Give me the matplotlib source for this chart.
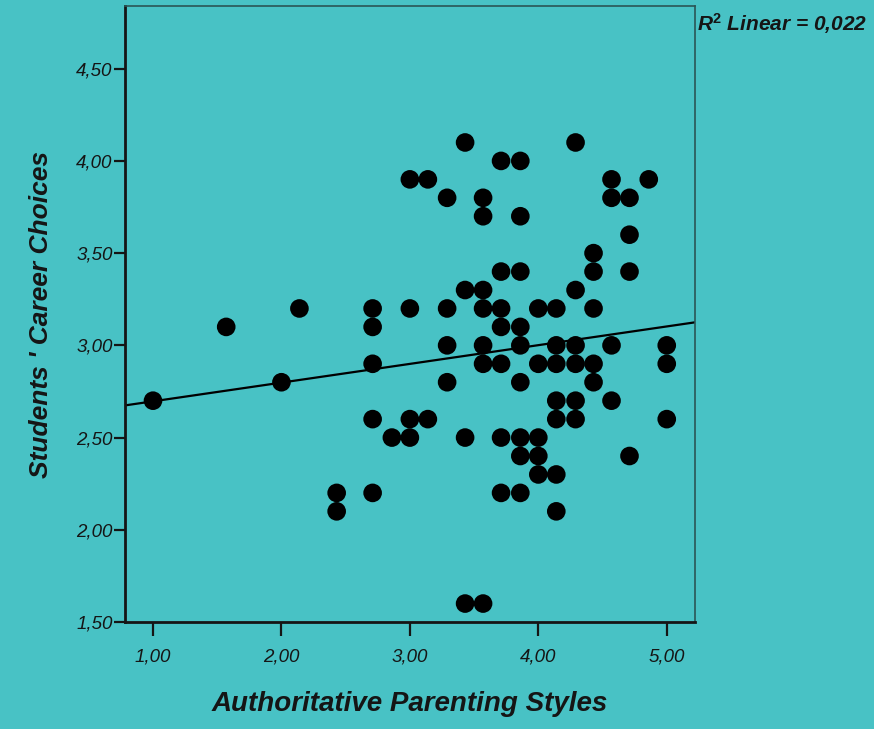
import numpy as np
import matplotlib
matplotlib.use("Agg")
import matplotlib.pyplot as plt

# Authoritative parenting score (x) and career choice score (y)
x_vals = [1.00, 1.57, 2.00, 2.14,
          2.43, 2.43,
          2.71, 2.71, 2.71, 2.71, 2.71,
          2.86,
          3.00, 3.00, 3.00, 3.00,
          3.14, 3.14,
          3.29, 3.29, 3.29, 3.29,
          3.43, 3.43, 3.43, 3.43,
          3.57, 3.57, 3.57, 3.57, 3.57, 3.57, 3.57,
          3.71, 3.71, 3.71, 3.71, 3.71, 3.71, 3.71,
          3.86, 3.86, 3.86, 3.86, 3.86, 3.86, 3.86, 3.86, 3.86,
          4.00, 4.00, 4.00, 4.00, 4.00,
          4.14, 4.14, 4.14, 4.14, 4.14, 4.14, 4.14,
          4.29, 4.29, 4.29, 4.29, 4.29, 4.29,
          4.43, 4.43, 4.43, 4.43, 4.43,
          4.57, 4.57, 4.57, 4.57,
          4.71, 4.71, 4.71, 4.71,
          4.86,
          5.00, 5.00, 5.00]
y_vals = [2.7, 3.1, 2.8, 3.2,
          2.2, 2.1,
          3.2, 3.1, 2.9, 2.6, 2.2,
          2.5,
          3.9, 3.2, 2.6, 2.5,
          3.9, 2.6,
          3.8, 3.2, 3.0, 2.8,
          4.1, 3.3, 2.5, 1.6,
          3.8, 3.7, 3.3, 3.2, 3.0, 2.9, 1.6,
          4.0, 3.4, 3.2, 3.1, 2.9, 2.5, 2.2,
          4.0, 3.7, 3.4, 3.1, 3.0, 2.8, 2.5, 2.4, 2.2,
          3.2, 2.9, 2.5, 2.4, 2.3,
          3.2, 3.0, 2.9, 2.7, 2.6, 2.3, 2.1,
          4.1, 3.3, 3.0, 2.9, 2.7, 2.6,
          3.5, 3.4, 3.2, 2.9, 2.8,
          3.9, 3.8, 3.0, 2.7,
          3.8, 3.6, 3.4, 2.4,
          3.9,
          3.0, 2.9, 2.6]

# fit line as drawn (intercept, slope)
fit_coef = [2.595, 0.1015]
r2_text = "0,022"

x_ticks = [1, 2, 3, 4, 5]
y_ticks = [1.5, 2.0, 2.5, 3.0, 3.5, 4.0, 4.5]

bg = "#48c2c5"
ink = "#151515"

plt.rcParams['mathtext.fontset'] = 'custom'
plt.rcParams['mathtext.bf'] = 'Liberation Sans:bold'
plt.rcParams['mathtext.bfit'] = 'Liberation Sans:bold:italic'
plt.rcParams['mathtext.it'] = 'Liberation Sans:italic'

def comma(v):
    return f"{v:.2f}".replace(".", ",")

fig = plt.figure(figsize=(8.74, 7.29), dpi=100, facecolor=bg)
ax = fig.add_axes([125/874, 1 - 622/729, (695-125)/874, (622-6)/729])
ax.set_facecolor(bg)

xlim = (0.782, 5.22)
ax.set_xlim(xlim)
ax.set_ylim(1.5, 4.84)

ax.scatter(x_vals, y_vals, s=180, color="black", edgecolors="none", zorder=3)

xx = np.array(xlim)
ax.plot(xx, fit_coef[0] + fit_coef[1]*xx, color="black", lw=1.6, zorder=2)

ax.set_xticks(x_ticks)
ax.set_xticklabels([comma(v) for v in x_ticks])
ax.set_yticks(y_ticks)
ax.set_yticklabels([comma(v) for v in y_ticks])
for lab in ax.get_xticklabels() + ax.get_yticklabels():
    lab.set_fontfamily("Liberation Sans")
    lab.set_fontstyle("italic")
    lab.set_fontsize(13.5)
    lab.set_color(ink)
ax.tick_params(axis="x", direction="out", length=10, width=1.6, color=ink, pad=9)
ax.tick_params(axis="y", direction="out", length=8, width=1.6, color=ink, pad=1)

for side in ["left", "bottom"]:
    ax.spines[side].set_linewidth(2)
    ax.spines[side].set_color(ink)
for side in ["top", "right"]:
    ax.spines[side].set_linewidth(1.2)
    ax.spines[side].set_color("#2a5556")

ax.set_xlabel("Authoritative Parenting Styles", fontfamily="Liberation Sans",
              fontsize=20, fontweight="bold", fontstyle="italic", color=ink)
ax.xaxis.set_label_coords(0.5, -0.112)
ax.set_ylabel("Students ' Career Choices", fontfamily="Liberation Sans",
              fontsize=19, fontweight="bold", fontstyle="italic", color=ink)
ax.yaxis.set_label_coords(-0.127, 0.5)

fig.text(697/874, 1 - 31/729, r"$\mathbfit{R}^{\mathbf{2}}$" + " Linear = " + r2_text,
         fontfamily="Liberation Sans", fontsize=15, fontweight="bold",
         fontstyle="italic", ha="left", va="baseline", color=ink)

fig.savefig("out.png", dpi=100, facecolor=bg)
